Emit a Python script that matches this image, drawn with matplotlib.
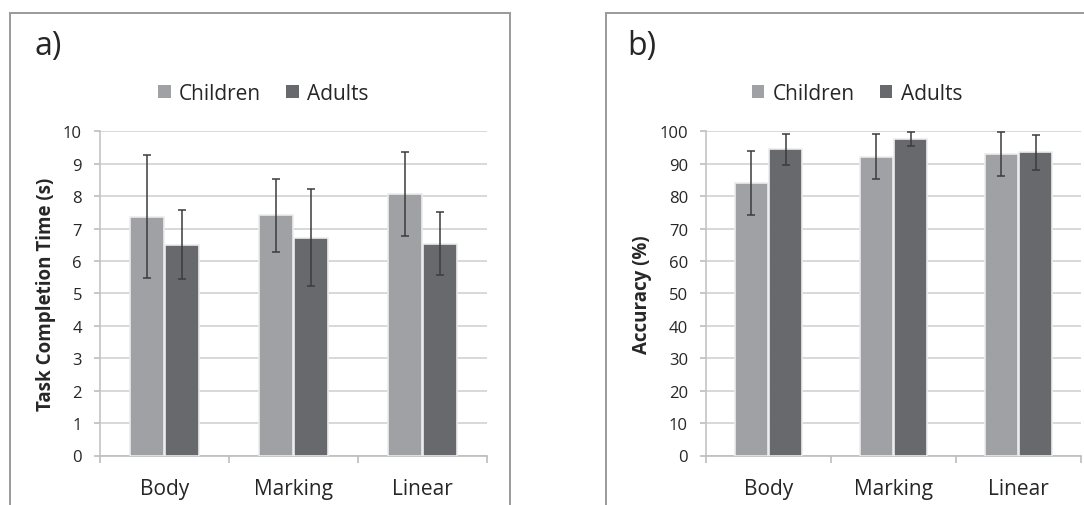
import matplotlib
matplotlib.use("Agg")
import numpy as np
import matplotlib.pyplot as plt
from matplotlib.patches import Rectangle, Patch

plt.rcParams['font.family'] = ['Open Sans', 'DejaVu Sans']

categories = ["Body", "Marking", "Linear"]
series = ["Children", "Adults"]

# task completion time (s)
time_children = [7.37, 7.41, 8.06]
time_children_err = [1.91, 1.13, 1.29]
time_adults = [6.50, 6.72, 6.53]
time_adults_err = [1.06, 1.50, 0.97]

# accuracy (%)
acc_children = [84.0, 92.2, 92.9]
acc_children_err = [9.8, 7.0, 6.8]
acc_adults = [94.5, 97.7, 93.5]
acc_adults_err = [4.8, 2.1, 5.3]

c_child = "#a0a1a5"
c_adult = "#68696d"
txt = "#262626"
W, H = 1084, 506

fig = plt.figure(figsize=(W / 100, H / 100), dpi=100)

# panel frames
for x0, x1 in [(9.5, 510), (606, 1200)]:
    fig.patches.append(Rectangle((x0 / W, -0.1), (x1 - x0) / W, 1.1 - 14 / H,
                                 transform=fig.transFigure, fill=False,
                                 edgecolor="#9a9a9a", lw=1.4, zorder=0))


def panel(ax, child, child_err, adult, adult_err, ymax, step, ylabel):
    x = np.arange(len(categories))
    w = 0.265
    eb = dict(ecolor="#3c3c3c", elinewidth=1.1, capsize=2.6, capthick=1.1)
    ax.bar(x - 0.137, child, w, color=c_child, edgecolor="#ececec", lw=1.2,
           yerr=child_err, error_kw=eb, zorder=3)
    ax.bar(x + 0.137, adult, w, color=c_adult, edgecolor="#ececec", lw=1.2,
           yerr=adult_err, error_kw=eb, zorder=3)
    ax.set_xlim(-0.5, len(categories) - 0.5)
    ax.set_ylim(0, ymax)
    ax.set_yticks(np.arange(0, ymax + step / 2, step))
    ax.yaxis.grid(True, color="#d2d2d2", lw=1.2, zorder=0)
    ax.set_axisbelow(True)
    ax.set_xticks(x)
    ax.set_xticklabels(categories, fontsize=15, color=txt)
    ax.set_xticks(np.arange(-0.5, len(categories)), minor=True)
    ax.tick_params(axis="x", which="major", length=0, pad=16)
    ax.tick_params(axis="x", which="minor", length=5, color="#bdbdbd", width=1.2)
    ax.tick_params(axis="y", length=4.5, color="#bdbdbd", width=1.2, pad=8.5,
                   labelsize=12, labelcolor=txt)
    for s in ["top", "right"]:
        ax.spines[s].set_visible(False)
    ax.spines["left"].set_color("#c4c4c4")
    ax.spines["bottom"].set_color("#bdbdbd")
    ax.spines["left"].set_linewidth(1.2)
    ax.spines["bottom"].set_linewidth(1.2)
    ax.set_ylabel(ylabel, fontsize=13.5, fontweight="bold", color=txt, labelpad=5)


b = (H - 456.5) / H
h = 324.2 / H
ax1 = fig.add_axes([100 / W, b, 387 / W, h])
panel(ax1, time_children, time_children_err, time_adults, time_adults_err, 10, 1,
      "Task Completion Time (s)")
ax2 = fig.add_axes([706 / W, b, 375 / W, h])
panel(ax2, acc_children, acc_children_err, acc_adults, acc_adults_err, 100, 10,
      "Accuracy (%)")

fig.text(35 / W, 1 - 47 / H, "a)", fontsize=23, va="center", ha="left", color=txt)
fig.text(627 / W, 1 - 47 / H, "b)", fontsize=23, va="center", ha="left", color=txt)

handles = [Patch(facecolor=c_child, edgecolor="none"), Patch(facecolor=c_adult, edgecolor="none")]
for cx in [263.5, 857]:
    fig.legend(handles, series, loc="center", bbox_to_anchor=(cx / W, 1 - 94 / H),
               ncol=2, frameon=False, fontsize=15, handlelength=0.6, handleheight=0.6,
               handletextpad=0.4, columnspacing=1.2, borderaxespad=0, borderpad=0,
               labelcolor=txt)

fig.savefig("out.png", dpi=100)
